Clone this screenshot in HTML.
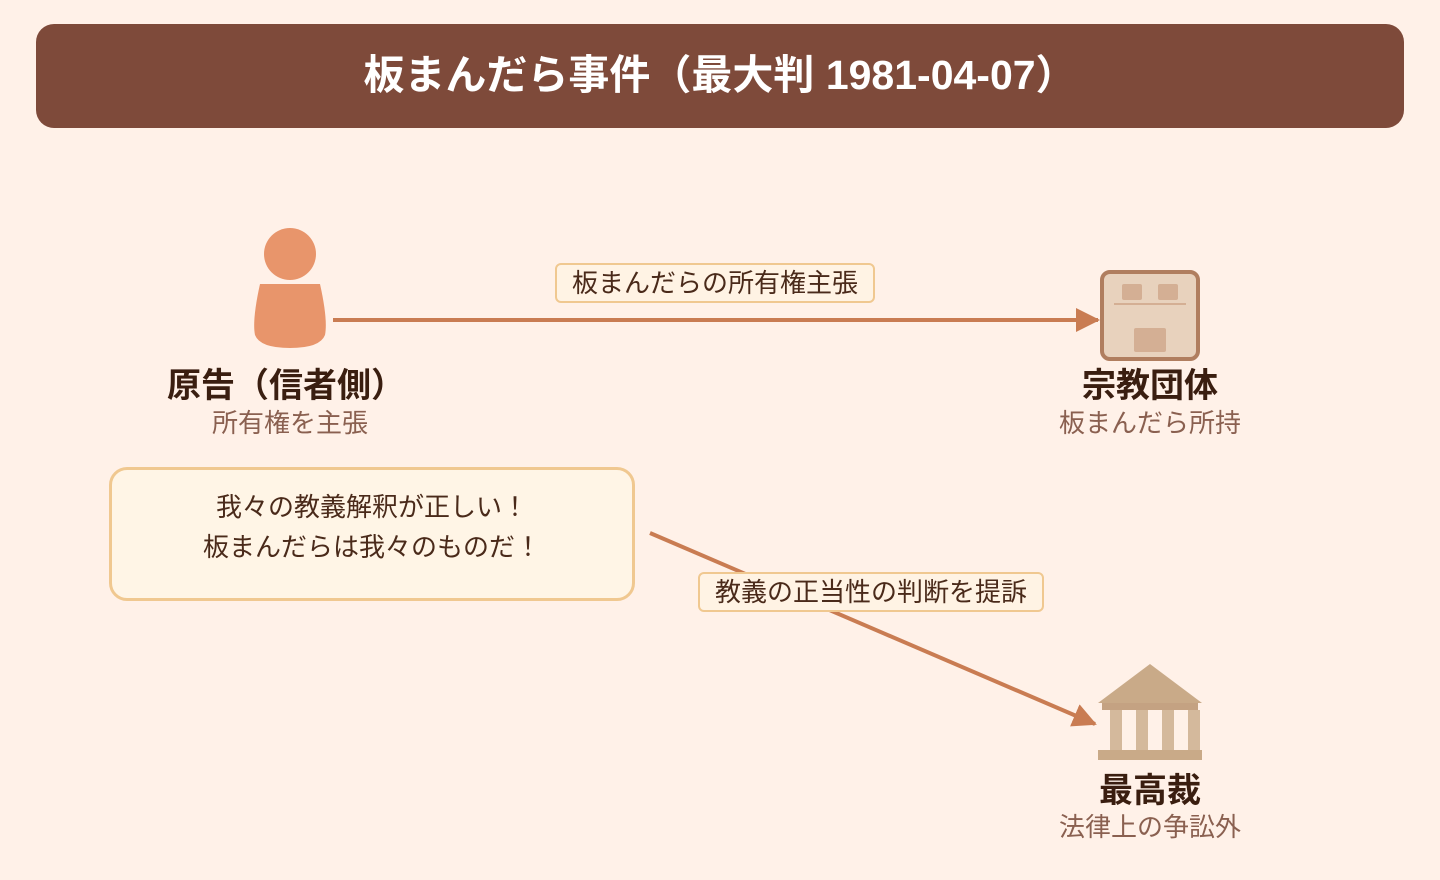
<!DOCTYPE html>
<html><head><meta charset="utf-8"><style>
body{margin:0;width:1440px;height:880px;background:#fff1e8;font-family:"Liberation Sans","Noto Sans CJK JP",sans-serif;position:relative;overflow:hidden}
.abs{position:absolute}
.hdr{left:36px;top:24px;width:1368px;height:104px;background:#7e4a3a;border-radius:18px;color:#fff;font-size:41px;font-weight:bold;text-align:center;line-height:102px}
.t{position:absolute;text-align:center;color:#3a1e10;font-weight:bold;font-size:34px;width:400px}
.s{position:absolute;text-align:center;color:#8a6050;font-size:26px;width:400px}
.lbl{position:absolute;background:#fff3e4;border:2px solid #f0c890;border-radius:6px;font-size:26px;color:#4a2a1a;height:40px;line-height:36px;text-align:center;box-sizing:border-box}
</style></head><body>
<div class="abs hdr">板まんだら事件（最大判 1981-04-07）</div>
<svg class="abs" style="left:0;top:0" width="1440" height="880">
<defs><marker id="a" markerWidth="24" markerHeight="24" refX="22" refY="12" orient="auto" markerUnits="userSpaceOnUse"><path d="M0,0 L24,12 L0,24 z" fill="#c97c52"/></marker></defs>
<line x1="333" y1="320" x2="1098" y2="320" stroke="#c97c52" stroke-width="4" marker-end="url(#a)"/>
<line x1="650" y1="533" x2="1095" y2="724" stroke="#c97c52" stroke-width="4" marker-end="url(#a)"/>
<circle cx="290" cy="254" r="26" fill="#e8956b"/>
<path d="M260,284 L320,284 Q328,320 325,335 Q320,348 290,348 Q260,348 255,335 Q252,320 260,284 z" fill="#e8956b"/>
<rect x="1102" y="272" width="96" height="87" rx="8" fill="#e8d2bd" stroke="#b07e5f" stroke-width="4"/>
<rect x="1122" y="284" width="20" height="16" rx="2" fill="#d4af94"/>
<rect x="1158" y="284" width="20" height="16" rx="2" fill="#d4af94"/>
<line x1="1114" y1="304" x2="1186" y2="304" stroke="#d4af94" stroke-width="2"/>
<rect x="1134" y="328" width="32" height="24" rx="2" fill="#d4af94"/>
<polygon points="1150,664 1202,703 1098,703" fill="#c9aa88"/>
<rect x="1102" y="703" width="96" height="7" fill="#c4a282"/>
<rect x="1110" y="710" width="12" height="40" fill="#d4b99c"/>
<rect x="1136" y="710" width="12" height="40" fill="#d4b99c"/>
<rect x="1162" y="710" width="12" height="40" fill="#d4b99c"/>
<rect x="1188" y="710" width="12" height="40" fill="#d4b99c"/>
<rect x="1098" y="750" width="104" height="10" fill="#c9aa88"/>
</svg>
<div class="t" style="left:86px;top:358px">原告（信者側）</div>
<div class="s" style="left:90px;top:403px">所有権を主張</div>
<div class="t" style="left:950px;top:358px">宗教団体</div>
<div class="s" style="left:950px;top:403px">板まんだら所持</div>
<div class="t" style="left:950px;top:763px">最高裁</div>
<div class="s" style="left:950px;top:807px">法律上の争訟外</div>
<div class="lbl" style="left:555px;top:263px;width:320px">板まんだらの所有権主張</div>
<div class="lbl" style="left:698px;top:572px;width:346px">教義の正当性の判断を提訴</div>
<div class="abs" style="left:109px;top:467px;width:526px;height:134px;box-sizing:border-box;border:3px solid #f0c890;border-radius:18px;background:#fff5e6;text-align:center;font-size:26px;color:#4a2a1a;line-height:40px;padding-top:17px">我々の教義解釈が正しい！<br>板まんだらは我々のものだ！</div>
</body></html>
